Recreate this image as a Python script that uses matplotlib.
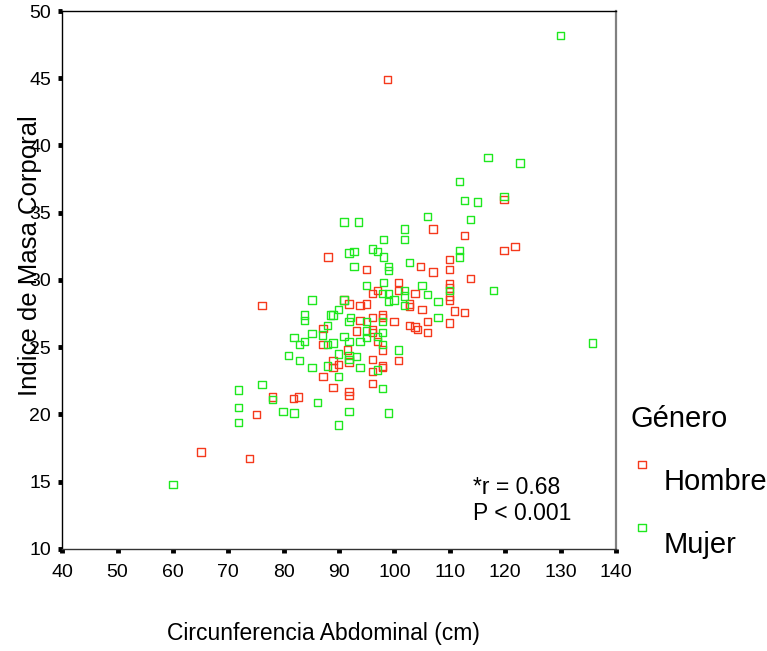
import matplotlib.pyplot as plt
from matplotlib.lines import Line2D
from matplotlib.path import Path

plt.rcParams['font.family'] = ['Liberation Sans', 'DejaVu Sans']

# Hombre (red)
hombre_x = [78.0, 81.8, 82.7, 75.1, 65.1, 73.8, 76.1, 87.1, 87.1, 87.1,
            88.0, 95.0, 104.7, 100.8, 100.8, 103.7, 96.0, 97.0, 90.9, 91.8,
            93.8, 95.0, 102.7, 102.7, 93.8, 96.0, 97.9, 97.9, 99.9, 102.7,
            103.7, 104.2, 93.1, 96.0, 96.0, 97.0, 97.9, 100.8, 88.9, 88.9,
            89.9, 91.5, 91.8, 96.0, 96.0, 97.9, 97.9, 96.0, 88.9, 91.8,
            91.8, 98.8, 107.0, 112.7, 121.8, 119.8, 109.9, 109.9, 107.0, 113.7,
            109.9, 109.9, 109.9, 109.9, 105.0, 110.8, 112.7, 106.0, 109.9, 106.0,
            119.8]
hombre_y = [21.3, 21.2, 21.3, 20.0, 17.2, 16.7, 28.1, 26.4, 25.2, 22.8,
            31.7, 30.8, 31.0, 29.8, 29.2, 29.0, 29.0, 29.2, 28.5, 28.2,
            28.1, 28.2, 28.2, 28.0, 27.0, 27.2, 27.4, 27.2, 26.9, 26.6,
            26.5, 26.3, 26.2, 26.3, 26.1, 25.4, 24.8, 24.0, 24.0, 23.5,
            23.7, 24.8, 23.9, 24.1, 23.2, 23.6, 23.5, 22.3, 22.0, 21.7,
            21.4, 44.9, 33.8, 33.3, 32.5, 32.2, 31.5, 30.8, 30.6, 30.1,
            29.7, 29.4, 28.8, 28.5, 27.8, 27.7, 27.6, 26.9, 26.8, 26.1,
            36.0]

# Mujer (green)
mujer_x = [71.9, 76.1, 78.0, 71.9, 79.9, 81.9, 71.9, 60.0,
           85.1, 83.8, 83.8, 87.9, 88.5, 85.1, 87.0, 81.9, 82.9, 83.8, 87.9, 80.9,
           82.9, 85.1, 87.9, 86.1,
           90.9, 93.5, 101.8, 101.8, 98.0, 96.0, 97.0, 92.7, 91.8, 98.0,
           92.7, 102.7, 98.9, 98.9, 98.0, 95.0, 101.8, 101.8, 97.9, 98.9,
           99.9, 98.9, 90.9, 89.9, 101.8, 88.9,
           91.8, 92.1, 95.0, 97.9, 88.9, 90.9, 91.8, 93.8, 95.0, 95.0,
           97.0, 97.9, 97.9, 100.8, 89.9, 91.8, 91.8, 93.1, 89.9, 93.8,
           97.0, 97.9, 91.8, 98.9, 89.9,
           116.9, 122.7, 111.7, 112.7, 115.0, 119.8, 106.0, 113.7, 111.8, 111.8,
           117.9, 109.9, 105.0, 106.0, 107.9, 107.9, 130.0, 135.8]
mujer_y = [21.8, 22.2, 21.1, 20.5, 20.2, 20.1, 19.4, 14.8,
           28.5, 27.4, 27.0, 26.6, 27.4, 26.0, 25.9, 25.7, 25.2, 25.4, 25.2, 24.4,
           24.0, 23.5, 23.6, 20.9,
           34.3, 34.3, 33.8, 33.0, 33.0, 32.3, 32.1, 32.1, 32.0, 31.7,
           31.0, 31.3, 31.0, 30.7, 29.8, 29.6, 29.2, 28.8, 29.0, 29.0,
           28.5, 28.4, 28.5, 27.8, 28.1, 27.4,
           26.9, 27.2, 26.9, 26.9, 25.3, 25.8, 25.4, 25.4, 25.7, 26.2,
           25.8, 26.1, 25.2, 24.8, 24.5, 24.4, 24.1, 24.3, 22.8, 23.5,
           23.3, 21.9, 20.2, 20.1, 19.2,
           39.1, 38.7, 37.3, 35.9, 35.8, 36.2, 34.7, 34.5, 32.2, 31.7,
           29.2, 29.2, 29.6, 28.9, 28.4, 27.2, 48.2, 25.3]

x_ticks = [40, 50, 60, 70, 80, 90, 100, 110, 120, 130, 140]
y_ticks = [10, 15, 20, 25, 30, 35, 40, 45, 50]

red = '#f5391c'
green = '#1fe81f'

fig = plt.figure(figsize=(7.67, 6.51), dpi=100)
ax = fig.add_axes([0.081, 0.157, 0.722, 0.826])

ax.scatter(hombre_x, hombre_y, marker='s', s=28, facecolors='none',
           edgecolors=red, linewidths=1.0, zorder=3)
ax.scatter(mujer_x, mujer_y, marker='s', s=28, facecolors='none',
           edgecolors=green, linewidths=1.0, zorder=3)

ax.set_xlim(40, 140)
ax.set_ylim(10, 50)
ax.set_xticks(x_ticks)
ax.set_yticks(y_ticks)
ax.tick_params(axis='both', direction='out', length=3, width=3.5,
               labelsize=14, color='black')
ax.tick_params(axis='x', pad=8)
ax.tick_params(axis='y', pad=5)

ax.spines['left'].set_color('black')
ax.spines['bottom'].set_color('#333333')
ax.spines['top'].set_color('black')
ax.spines['right'].set_color('#808080')
ax.spines['right'].set_linewidth(1.6)
for s in ['left', 'bottom', 'top']:
    ax.spines[s].set_linewidth(1.0)

ax.set_xlabel('Circunferencia Abdominal (cm)', fontsize=16.5)
ax.xaxis.set_label_coords(0.472, -0.136)
ax.set_ylabel('Indice de Masa Corporal', fontsize=18.5)
ax.yaxis.set_label_coords(-0.036, 0.546)

ax.text(0.742, 0.09, '*r = 0.68\nP < 0.001', transform=ax.transAxes,
        fontsize=16.5, va='center', ha='left', linespacing=1.2)

# legend square sits a bit above the label, as in the original
raised_square = Path([(-1, 3), (1, 3), (1, 5), (-1, 5), (-1, 3)],
                     [Path.MOVETO, Path.LINETO, Path.LINETO, Path.LINETO,
                      Path.CLOSEPOLY])
handles = [
    Line2D([], [], linestyle='none', marker=raised_square, markersize=26,
           markerfacecolor='none', markeredgecolor=red, markeredgewidth=1.0),
    Line2D([], [], linestyle='none', marker=raised_square, markersize=26,
           markerfacecolor='none', markeredgecolor=green, markeredgewidth=1.0),
]
leg = ax.legend(handles, ['Hombre', 'Mujer'], title='Género',
                loc='upper left', bbox_to_anchor=(1.005, 0.29),
                frameon=False, fontsize=21, title_fontsize=21,
                labelspacing=1.2, handlelength=0.8, handletextpad=0.33,
                borderaxespad=0)
leg._legend_box.align = 'left'

fig.savefig('out.png', dpi=100)
